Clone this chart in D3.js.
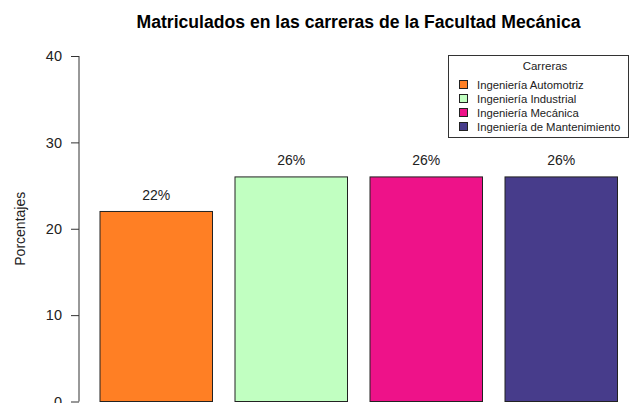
<!DOCTYPE html>
<html><head><meta charset="utf-8">
<script src="https://cdn.jsdelivr.net/npm/d3@7"></script>
<style>body{margin:0;background:#fff}svg{display:block;font-family:"Liberation Sans",Arial,sans-serif}</style>
</head><body>
<svg id="c" width="630" height="403"></svg>
<script>
const categories = ["Ingeniería Automotriz","Ingeniería Industrial","Ingeniería Mecánica","Ingeniería de Mantenimiento"];
const values = [22, 26, 26, 26];
const labels = ["22%","26%","26%","26%"];
const colors = ["#FF7F24","#C1FFC1","#EE1289","#473C8B"];
const yTicks = [0,10,20,30,40];
const title = "Matriculados en las carreras de la Facultad Mecánica";
const yTitle = "Porcentajes";
const legendTitle = "Carreras";

const svg = d3.select("#c");
// R barplot units: width 1, space 0.2
const x = d3.scaleLinear().domain([0.016, 4.984]).range([79.3, 638.2]);
const y = d3.scaleLinear().domain([0, 40]).range([401.5, 56]);

svg.append("text").attr("x", 358.5).attr("y", 28).attr("text-anchor","middle")
  .attr("font-weight","bold").attr("font-size", 17.6).attr("fill","#000").text(title);

const ax = svg.append("g").attr("transform","translate(79,0)")
  .call(d3.axisLeft(y).tickValues(yTicks).tickSize(8).tickPadding(9));
ax.select(".domain").attr("stroke","#333").attr("d", `M0,${y(0)}V${y(40)}`);
ax.selectAll(".tick line").attr("stroke","#333");
ax.selectAll(".tick text").attr("font-size",14.5).attr("fill","#222")
  .attr("font-family","'Liberation Sans',Arial,sans-serif");

svg.append("text").attr("transform",`translate(25,${(y(0)+y(40))/2}) rotate(-90)`)
  .attr("text-anchor","middle").attr("font-size",14).attr("fill","#222").text(yTitle);

const bars = svg.append("g");
values.forEach((v,i)=>{
  const l = 0.2 + i*1.2;
  bars.append("rect").attr("x", x(l)).attr("y", y(v))
    .attr("width", x(l+1)-x(l)).attr("height", y(0)-y(v))
    .attr("fill", colors[i]).attr("stroke","#222").attr("stroke-width",1);
  bars.append("text").attr("x", x(l+0.5)).attr("y", y(v)-11.5)
    .attr("text-anchor","middle").attr("font-size",14).attr("fill","#222").text(labels[i]);
});

// legend
const lg = svg.append("g");
lg.append("rect").attr("x",448.5).attr("y",55.5).attr("width",180).attr("height",82)
  .attr("fill","#fff").attr("stroke","#333");
lg.append("text").attr("x",545).attr("y",70).attr("text-anchor","middle")
  .attr("font-size",11.5).attr("fill","#222").text(legendTitle);
categories.forEach((c,i)=>{
  const cy = 84.5 + i*14;
  lg.append("rect").attr("x",459.5).attr("y",cy-4).attr("width",8).attr("height",8)
    .attr("fill",colors[i]).attr("stroke","#222");
  lg.append("text").attr("x",477).attr("y",cy+4).attr("font-size",11.3).attr("fill","#222").text(c);
});
</script>
</body></html>
